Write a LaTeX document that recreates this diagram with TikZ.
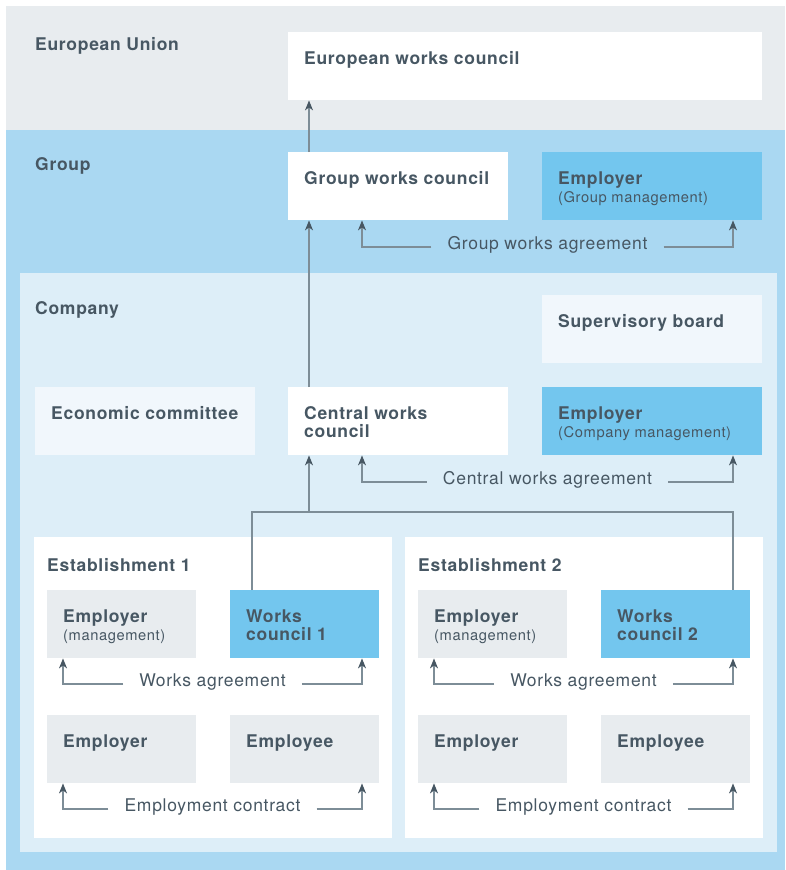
\documentclass[tikz,border=0pt]{standalone}
\usepackage{fontspec}
\setmainfont{TeX Gyre Heros}[LetterSpace=4]
\usetikzlibrary{arrows.meta}

\definecolor{eugrey}{HTML}{E8ECEF}
\definecolor{grpblue}{HTML}{AAD8F2}
\definecolor{comblue}{HTML}{DDEEF8}
\definecolor{keyblue}{HTML}{73C6EE}
\definecolor{paleblue}{HTML}{F1F7FC}
\definecolor{boxgrey}{HTML}{E8ECEF}
\definecolor{ink}{HTML}{475763}
\definecolor{wirec}{HTML}{7D8D97}

\newcommand{\lblfont}{\fontsize{17.5}{18.5}\selectfont\bfseries}
\newcommand{\agrfont}{\fontsize{17.5}{18.5}\selectfont}
\newcommand{\notefont}[1]{{\fontsize{14.7}{19}\selectfont\mdseries #1}}

\tikzstyle{band} = [rectangle, anchor=north west, inner sep=0pt]
\tikzstyle{box} = [rectangle, anchor=north west, inner sep=0pt,
minimum width=220pt, minimum height=68pt]
\tikzstyle{sbox} = [box, minimum width=149pt]
\tikzstyle{tag} = [anchor=base west, inner sep=0pt, align=left, text=ink, font=\lblfont]
\tikzstyle{intext} = [tag, xshift=16pt, yshift=-32pt]
\tikzstyle{agr} = [anchor=mid, inner xsep=16pt, inner ysep=0pt, text=ink, font=\agrfont]
\tikzstyle{wire} = [draw=wirec, line width=1.1pt]
% base of a two-line label sits on its second line
\tikzset{boxtext/.style={label={[intext]north west:{#1}}},
boxtexttwo/.style={label={[intext,yshift=-18.5pt]north west:{#1}}}}

\begin{document}
\begin{tikzpicture}[x=1pt, y=-1pt, >={Stealth[length=10pt,width=8pt,inset=3pt,color=ink]}]
\useasboundingbox (0,0) rectangle (785,870);

% levels
\node[band, fill=eugrey, minimum width=779pt, minimum height=124pt,
label={[tag,xshift=29pt,yshift=-44pt]north west:European Union}] (eu) at (6,6) {};
\node[band, fill=grpblue, minimum width=779pt, minimum height=740pt,
label={[tag,xshift=29pt,yshift=-40pt]north west:Group}] (grp) at (6,130) {};
\node[band, fill=comblue, minimum width=757pt, minimum height=579pt,
label={[tag,xshift=15pt,yshift=-41pt]north west:Company}] (com) at (20,273) {};

\node[box, fill=white, minimum width=474pt, boxtext={European works council}] (ewc) at (288,32) {};
\node[box, fill=white, boxtext={Group works council}] (gwc) at (288,152) {};
\node[box, fill=keyblue, boxtexttwo={Employer\\\notefont{(Group management)}}] (gemp) at (542,152) {};
\node[box, fill=paleblue, boxtext={Supervisory board}] (sup) at (542,295) {};
\node[box, fill=paleblue, boxtext={Economic committee}] (eco) at (35,387) {};
\node[box, fill=white, boxtexttwo={Central works\\council}] (cwc) at (288,387) {};
\node[box, fill=keyblue, boxtexttwo={Employer\\\notefont{(Company management)}}] (cemp) at (542,387) {};

\foreach \i/\dx in {1/0,2/371}{
  \node[band, fill=white, minimum width=358pt, minimum height=301pt,
  label={[tag,xshift=13pt,yshift=-34pt]north west:Establishment \i}] (est\i) at (34+\dx,537) {};
  \node[sbox, fill=boxgrey, boxtexttwo={Employer\\\notefont{(management)}}] (mgt\i) at (47+\dx,590) {};
  \node[sbox, fill=keyblue, boxtexttwo={Works\\council \i}] (wc\i) at (230+\dx,590) {};
  \node[sbox, fill=boxgrey, boxtext={Employer}] (er\i) at (47+\dx,715) {};
  \node[sbox, fill=boxgrey, boxtext={Employee}] (ee\i) at (230+\dx,715) {};

  \node[agr] (wa\i) at (212.5+\dx,684) {Works agreement};
  \draw[wire,->] (wa\i.mid west) -| ([xshift=16pt]mgt\i.south west);
  \draw[wire,->] (wa\i.mid east) -| ([xshift=132pt]wc\i.south west);
  \node[agr] (ec\i) at (212.5+\dx,809) {Employment contract};
  \draw[wire,->] (ec\i.mid west) -| ([xshift=16pt]er\i.south west);
  \draw[wire,->] (ec\i.mid east) -| ([xshift=132pt]ee\i.south west);
}

% councils upwards
\coordinate (junc) at (309,512);
\draw[wire] ([xshift=22pt]wc1.north west) |- (junc) -| ([xshift=132pt]wc2.north west);
\draw[wire,->] (junc) -- ([xshift=21pt]cwc.south west);
\draw[wire,->] ([xshift=21pt]cwc.north west) -- ([xshift=21pt]gwc.south west);
\draw[wire,->] ([xshift=21pt]gwc.north west) -- ([xshift=21pt]ewc.south west);

\node[agr] (cwa) at (547.5,482) {Central works agreement};
\draw[wire,->] (cwa.mid west) -| ([xshift=74pt]cwc.south west);
\draw[wire,->] (cwa.mid east) -| ([xshift=191pt]cemp.south west);

\node[agr] (gwa) at (547.5,247) {Group works agreement};
\draw[wire,->] (gwa.mid west) -| ([xshift=74pt]gwc.south west);
\draw[wire,->] (gwa.mid east) -| ([xshift=191pt]gemp.south west);
\end{tikzpicture}
\end{document}
